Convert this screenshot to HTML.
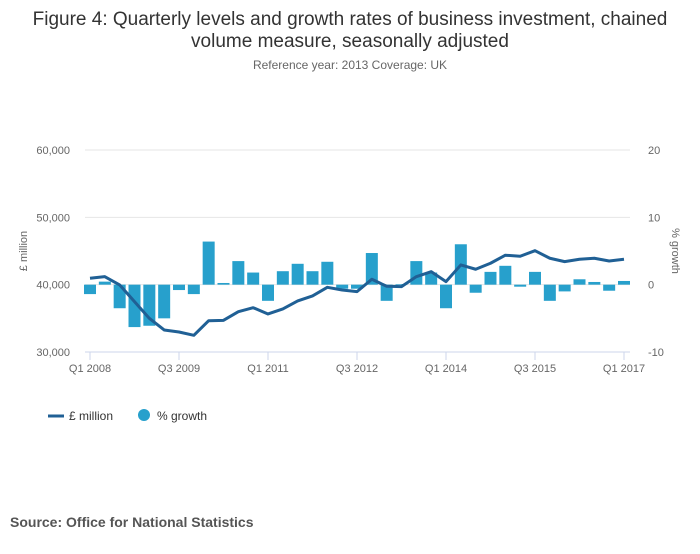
<!DOCTYPE html>
<html><head><meta charset="utf-8"><style>
body{margin:0;background:#fff;font-family:"Liberation Sans",sans-serif}
svg text{font-family:"Liberation Sans",sans-serif}
</style></head><body>
<svg id="c" width="700" height="549" xmlns="http://www.w3.org/2000/svg">
<text x="350" y="25" text-anchor="middle" font-size="19" fill="#333">Figure 4: Quarterly levels and growth rates of business investment, chained</text>
<text x="350" y="47" text-anchor="middle" font-size="19" fill="#333">volume measure, seasonally adjusted</text>
<text x="350" y="69" text-anchor="middle" font-size="12" fill="#666">Reference year: 2013 Coverage: UK</text>
<g id="grid"></g><g id="bars"></g><g id="line"></g><g id="axes"></g>
<text x="27" y="251" transform="rotate(-90 27 251)" text-anchor="middle" font-size="11" fill="#666">£ million</text>
<text x="672" y="251" transform="rotate(90 672 251)" text-anchor="middle" font-size="11" fill="#666">% growth</text>
<g><line x1="48" y1="416" x2="64" y2="416" stroke="#206095" stroke-width="3"/><text x="69" y="420" font-size="12" fill="#333">£ million</text></g>
<g><circle cx="144" cy="415" r="6" fill="#27a0cc"/><text x="157" y="420" font-size="12" fill="#333">% growth</text></g>
<text x="10" y="527" font-size="14" font-weight="bold" fill="#555">Source: Office for National Statistics</text>
</svg>
<script>
const quarters=["Q1 2008","Q2 2008","Q3 2008","Q4 2008","Q1 2009","Q2 2009","Q3 2009","Q4 2009","Q1 2010","Q2 2010","Q3 2010","Q4 2010","Q1 2011","Q2 2011","Q3 2011","Q4 2011","Q1 2012","Q2 2012","Q3 2012","Q4 2012","Q1 2013","Q2 2013","Q3 2013","Q4 2013","Q1 2014","Q2 2014","Q3 2014","Q4 2014","Q1 2015","Q2 2015","Q3 2015","Q4 2015","Q1 2016","Q2 2016","Q3 2016","Q4 2016","Q1 2017"];
const levels=[40950,41190,39960,37480,35000,33270,32970,32480,34650,34700,35990,36580,35650,36390,37580,38320,39610,39210,38970,40800,39760,39710,41190,41930,40450,42930,42290,43180,44370,44220,45050,43920,43420,43770,43920,43520,43770];
const growth=[-1.4,0.45,-3.5,-6.3,-6.1,-5.0,-0.8,-1.4,6.4,0.25,3.5,1.8,-2.4,2.0,3.1,2.0,3.4,-0.6,-0.6,4.7,-2.4,0.1,3.5,1.8,-3.5,6.0,-1.2,1.9,2.8,-0.3,1.9,-2.4,-1.0,0.8,0.4,-0.9,0.55];
const leftTicks=[30000,40000,50000,60000];
const rightTicks=[-10,0,10,20];
const xLabelIdx=[0,6,12,18,24,30,36];
const NS="http://www.w3.org/2000/svg";
const x0=90,x1=624,yTop=150,yBot=352;
const xS=i=>x0+i*(x1-x0)/(quarters.length-1);
const yL=v=>yBot-(v-30000)/30000*(yBot-yTop);
const yR=v=>yBot-(v+10)/30*(yBot-yTop);
function mk(t,a,p){const e=document.createElementNS(NS,t);for(const k in a)e.setAttribute(k,a[k]);p.appendChild(e);return e;}
const grid=document.getElementById('grid'),axes=document.getElementById('axes');
leftTicks.forEach((v,i)=>{
 const g=mk('line',{x1:85,x2:630,y1:yL(v),y2:yL(v),stroke:v==30000?'#ccd6eb':'#e6e6e6','stroke-width':1},grid);
 
 
 const t=mk('text',{x:70,y:yL(v)+4,'text-anchor':'end','font-size':11,fill:'#666'},axes);t.textContent=v.toLocaleString('en-GB');
 
 
});
rightTicks.forEach(v=>{
 const t=mk('text',{x:648,y:yR(v)+4,'font-size':11,fill:'#666'},axes);t.textContent=v;
 
 
});
xLabelIdx.forEach(i=>{
 mk('line',{x1:xS(i),x2:xS(i),y1:yBot,y2:yBot+8,stroke:'#ccd6eb'},axes);
 const t=mk('text',{x:xS(i),y:yBot+20,'text-anchor':'middle','font-size':11,fill:'#666'},axes);t.textContent=quarters[i];
 
 
});
const bars=document.getElementById('bars');
growth.forEach((v,i)=>{
 const y0=yR(0),y=yR(v);
 const r=mk('rect',{x:xS(i)-6,width:12,y:Math.min(y,y0),height:Math.max(Math.abs(y-y0),0.5),fill:'#27a0cc'},bars);
 
 
});
const p=mk('path',{d:levels.map((v,i)=>(i?'L':'M')+xS(i)+' '+yL(v)).join(''),fill:'none',stroke:'#206095','stroke-width':3,'stroke-linejoin':'round'},document.getElementById('line'));


</script>
</body></html>
